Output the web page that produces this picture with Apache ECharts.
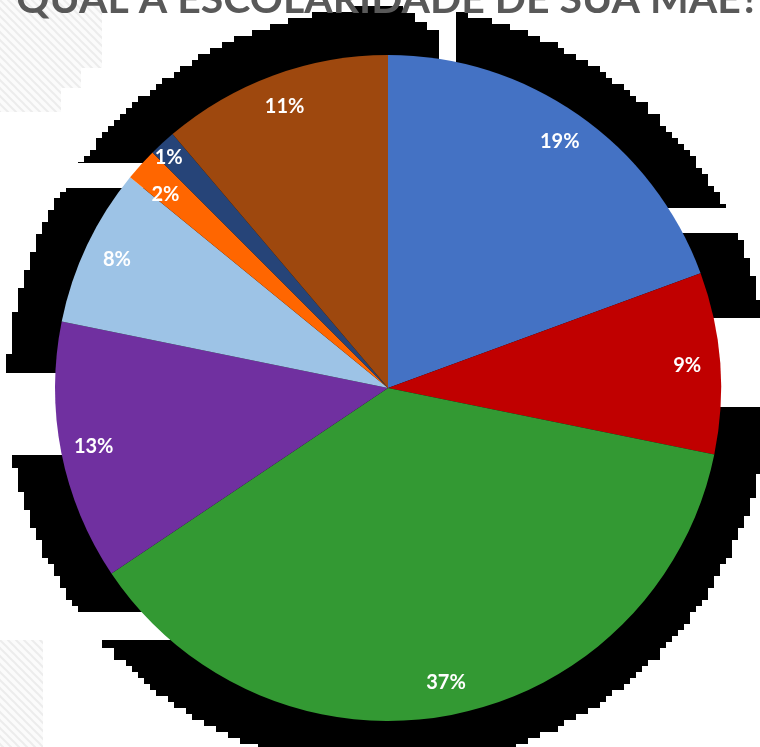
<!DOCTYPE html>
<html>
<head>
<meta charset="utf-8">
<script src="https://cdn.jsdelivr.net/npm/echarts@6/dist/echarts.min.js"></script>
<style>
  html, body { margin: 0; padding: 0; background: #fff; }
  #chart { width: 760px; height: 747px; }
</style>
</head>
<body>
<div id="chart"></div>
<script>
// categories are not printed on the picture, so neutral names are used
var categories = ['Categoria A', 'Categoria B', 'Categoria C', 'Categoria D',
                  'Categoria E', 'Categoria F', 'Categoria G', 'Categoria H'];
var values = [19.4, 8.8, 37.4, 12.6, 7.7, 1.6, 1.3, 11.2];
var colors = ['#4472C4', '#C00000', '#339933', '#7030A0',
              '#9DC3E6', '#FF6600', '#264478', '#9E480E'];
var title = 'QUAL A ESCOLARIDADE DE SUA MÃE?';

var cx = 388, cy = 388, R = 333;

// stepped black shadow around the pie
function steppedCircle(x0, y0, r, step) {
    var pts = [], prev = null;
    for (var a = 0; a <= 360; a += 0.5) {
        var t = a * Math.PI / 180;
        var q = [Math.round((x0 + r * Math.cos(t)) / step) * step,
                 Math.round((y0 + r * Math.sin(t)) / step) * step];
        if (prev && (q[0] !== prev[0] || q[1] !== prev[1])) {
            pts.push([q[0], prev[1]]);
        }
        if (!prev || q[0] !== prev[0] || q[1] !== prev[1]) pts.push(q);
        prev = q;
    }
    return pts;
}

// hatch pattern for the corner patches
var hatch = document.createElement('canvas');
hatch.width = 8; hatch.height = 8;
var hc = hatch.getContext('2d');
hc.fillStyle = '#fbfbfb';
hc.fillRect(0, 0, 8, 8);
hc.strokeStyle = '#ececec';
hc.lineWidth = 2;
hc.beginPath();
hc.moveTo(-2, -2); hc.lineTo(10, 10);
hc.moveTo(-2, 6); hc.lineTo(2, 10);
hc.moveTo(6, -2); hc.lineTo(10, 2);
hc.stroke();

var white = { fill: '#fff' };
var chart = echarts.init(document.getElementById('chart'));

chart.setOption({
    animation: false,
    backgroundColor: '#fff',
    graphic: [
        { type: 'polygon', z: -10, shape: { points: [[0,0],[102,0],[102,68],[81,68],[81,88],[61,88],[61,112],[0,112]] },
          style: { fill: { image: hatch, repeat: 'repeat' } } },
        { type: 'rect', z: -10, shape: { x: 0, y: 640, width: 43, height: 107 },
          style: { fill: { image: hatch, repeat: 'repeat' } } },
        { type: 'polygon', z: -5, shape: { points: steppedCircle(cx, cy, 381, 6) }, style: { fill: '#000' } },
        { type: 'polygon', z: -4, shape: { points: [[403,0],[403,13],[415,13],[415,22],[427,22],[427,30],[439,30],[439,70],[456,70],[456,0]] }, style: white },
        { type: 'rect', z: -4, shape: { x: 0, y: 163, width: 160, height: 25 }, style: white },
        { type: 'rect', z: -4, shape: { x: 0, y: 373, width: 100, height: 82 }, style: white },
        { type: 'rect', z: -4, shape: { x: 0, y: 612, width: 170, height: 28 }, style: white },
        { type: 'rect', z: -4, shape: { x: 640, y: 208, width: 120, height: 25 }, style: white },
        { type: 'rect', z: -4, shape: { x: 690, y: 318, width: 70, height: 89 }, style: white },
        { type: 'text', z: 10, style: { text: title, x: 388, y: 0, align: 'center', verticalAlign: 'middle',
          fill: '#595959', font: 'bold 41px Lato' } }
    ],
    series: [
        {
            type: 'pie',
            z: 2,
            center: [cx, cy],
            radius: [0, R],
            startAngle: 90,
            silent: true,
            label: { show: false },
            labelLine: { show: false },
            itemStyle: { borderWidth: 0 },
            data: categories.map(function (c, i) {
                return { name: c, value: values[i], itemStyle: { color: colors[i] } };
            })
        },
        {
            type: 'pie',
            z: 3,
            center: [cx, cy],
            radius: [262, 332],
            startAngle: 90,
            silent: true,
            itemStyle: { color: 'rgba(0,0,0,0)', borderWidth: 0 },
            label: {
                show: true,
                position: 'inside',
                color: '#fff',
                fontFamily: 'Lato',
                fontWeight: 'bold',
                fontSize: 20,
                formatter: function (p) { return Math.round(p.percent) + '%'; }
            },
            labelLine: { show: false },
            data: categories.map(function (c, i) {
                var d = { name: c, value: values[i] };
                // the 1% label sits further out in the original
                if (i === 6) d.label = { offset: [-16, -10] };
                if (i === 5) d.label = { offset: [0, 8] };
                return d;
            })
        }
    ]
});
</script>
</body>
</html>
